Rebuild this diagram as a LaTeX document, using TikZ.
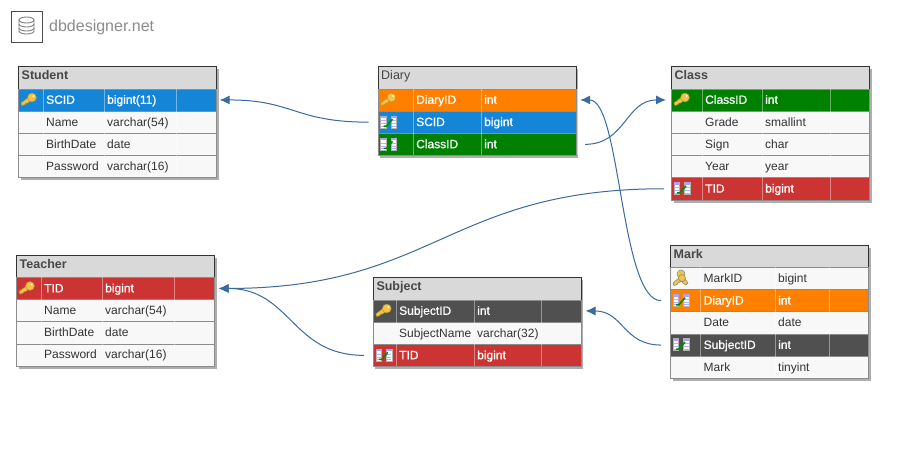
\documentclass[tikz,border=0pt]{standalone}
\usepackage{fontspec}
\setmainfont{Liberation Sans}
\newfontfamily\inkfont[FakeBold=0.8]{Liberation Sans}
\usepackage{tikz}
\usetikzlibrary{calc}
\usetikzlibrary{shadows}
\usetikzlibrary{arrows.meta}
\definecolor{dbblue}{HTML}{1585D8}
\definecolor{dborange}{HTML}{FF8000}
\definecolor{dbgreen}{HTML}{008000}
\definecolor{dbred}{HTML}{CC3333}
\definecolor{dbdark}{HTML}{505050}
\definecolor{dbplain}{HTML}{F8F8F8}
\definecolor{dbhead}{HTML}{D9D9D9}
\definecolor{dblink}{HTML}{3A6A9E}
\definecolor{dbkey}{HTML}{F2C544}
\tikzset{>={Latex[length=10pt,width=9pt]}}
\tikzset{
  tablebox/.style={draw=black!55,line width=1pt,fill=white,rectangle,inner sep=0pt,anchor=north west,
    drop shadow={shadow xshift=2pt,shadow yshift=-2.5pt,opacity=0.45,fill=black!70}},
  headbox/.style={draw=black!80,line width=1pt,fill=dbhead,rectangle,inner sep=0pt,minimum height=22.5pt,anchor=north west},
  rowbox/.style={draw=black!45,line width=0.7pt,rectangle,inner sep=0pt,minimum height=22.2pt,anchor=north west},
  headtext/.style={font=\bfseries\fontsize{12.5}{14}\selectfont,text=black!72,inner sep=0pt,anchor=base west},
  plainink/.style={font=\fontsize{12}{14}\selectfont,text=black!80,inner sep=0pt,anchor=base west},
  whiteink/.style={font=\inkfont\fontsize{12}{14}\selectfont,text=white,inner sep=0pt,anchor=base west},
  colsep/.style={white,opacity=0.4,line width=1pt},
  fklink/.style={dblink,line width=1pt,->},
  pk/.pic={
    \draw[dbkey!75!black,fill=dbkey,line width=0.5pt] (0,-2.5) -- (-8,3.5) -- (-7,6) -- (-4,5) -- (-3,3.5) -- (-1.5,3.5) -- (2,1) -- cycle;
    \draw[dbkey!75!black,fill=dbkey,line width=0.5pt] (3,-2) circle (4.4);
    \fill[white] (4.5,-3.5) circle (1);
  },
  mk/.pic={
    \draw[black!50,fill=dbkey,line width=0.5pt] (1,-3) -- (7,5) -- (5,7) -- (2,5) -- (-2,0) -- cycle;
    \draw[black!50,fill=dbkey,line width=0.5pt] (0,-4) circle (4);
    \draw[black!50,fill=dbkey,line width=0.5pt] (-1,-1) -- (-8,5) -- (-7,7.5) -- (-4,6.5) -- (-3,5) -- (1,3) -- cycle;
    \draw[black!50,fill=dbkey,line width=0.5pt] (1,0) circle (3.5);
  },
  fk/.pic={
    \draw[black!30,fill=white,line width=0.4pt] (-8,-6) rectangle (-2.5,6);
    \draw[black!30,fill=white,line width=0.4pt] (2.5,-6) rectangle (8,6);
    \fill[blue!35] (-8,-6) rectangle (-2.5,-3.5);
    \fill[blue!35] (2.5,-6) rectangle (8,-3.5);
    \foreach \k in {-1,2,4.5} {
      \draw[blue!30,line width=0.6pt] (-7.5,\k) -- (-3,\k);
      \draw[blue!30,line width=0.6pt] (3,\k) -- (7.5,\k);
    }
    \draw[green!55!black,line width=1.6pt] (-5,4.5) -- (-2,4.5) -- (4,-2.5);
  },
  nokey/.pic={}
}
\newcommand{\tablew}{198}
% #1 name, #2 title, #3 left, #4 top, #5-#7 column rules, #8 row count, #9 rows
\newcommand{\dbtable}[9]{
  \pgfmathsetmacro{\tableh}{22.5+22.2*#8}
  \node[tablebox,minimum width=\tablew pt,minimum height=\tableh pt] (#1) at (#3,#4) {};
  \node[headbox,minimum width=\tablew pt] (#1-head) at (#3,#4) {};
  \node[headtext] (#1-title) at (#3+3.5,#4+13.5) {#2};
  \foreach \rid/\rfield/\rtype/\rfill/\rink/\ricon [count=\i from 0] in {#9} {
    \pgfmathsetmacro{\ry}{#4+22.5+22.2*\i}
    \node[rowbox,fill=\rfill,minimum width=\tablew pt] (\rid) at (#3,\ry) {};
    \draw[colsep] (#5,\ry) -- (#5,\ry+22.2);
    \draw[colsep] (#6,\ry) -- (#6,\ry+22.2);
    \draw[colsep] (#7,\ry) -- (#7,\ry+22.2);
    \node[\rink] (\rid-field) at (#5+3,\ry+15.3) {\rfield};
    \node[\rink] (\rid-type) at (#6+3,\ry+15.3) {\rtype};
    \pic at (#3+11,\ry+11) {\ricon};
  }
}
\begin{document}
\begin{tikzpicture}[x=1pt,y=-1pt]
    \useasboundingbox[fill=white] (0,0) rectangle (918,450);
    % logo
    \node[draw=black!70,line width=1pt,fill=white,minimum size=31pt,inner sep=0pt,anchor=north west] (logo) at (10.5,10.5) {};
    \begin{scope}[black!50,line width=0.9pt]
      \draw (19,20) -- (19,31) arc[start angle=180,end angle=360,x radius=7.5,y radius=-3] -- (34,20);
      \draw (26.5,20) ellipse (7.5 and 3);
      \draw (19,24) arc[start angle=180,end angle=360,x radius=7.5,y radius=-3];
      \draw (19,28) arc[start angle=180,end angle=360,x radius=7.5,y radius=-3];
    \end{scope}
    \node[font=\fontsize{16}{20}\selectfont,text=black!45,inner sep=0pt,anchor=base west] (brand) at (49,31) {dbdesigner.net};
    % tables
    \dbtable{student}{Student}{18}{66}{43}{104}{176}{4}{
      stu-scid/SCID/bigint(11)/dbblue/whiteink/pk,
      stu-name/Name/varchar(54)/dbplain/plainink/nokey,
      stu-birth/BirthDate/date/dbplain/plainink/nokey,
      stu-pass/Password/varchar(16)/dbplain/plainink/nokey}
    \dbtable{diary}{\mdseries Diary}{377.5}{66}{413}{481}{577}{3}{
      dia-id/DiaryID/int/dborange/whiteink/pk,
      dia-scid/SCID/bigint/dbblue/whiteink/fk,
      dia-class/ClassID/int/dbgreen/whiteink/fk}
    \dbtable{class}{Class}{671}{66}{702}{762}{830}{5}{
      cla-id/ClassID/int/dbgreen/whiteink/pk,
      cla-grade/Grade/smallint/dbplain/plainink/nokey,
      cla-sign/Sign/char/dbplain/plainink/nokey,
      cla-year/Year/year/dbplain/plainink/nokey,
      cla-tid/TID/bigint/dbred/whiteink/fk}
    \dbtable{teacher}{Teacher}{16}{254.5}{41}{102}{174}{4}{
      tea-tid/TID/bigint/dbred/whiteink/pk,
      tea-name/Name/varchar(54)/dbplain/plainink/nokey,
      tea-birth/BirthDate/date/dbplain/plainink/nokey,
      tea-pass/Password/varchar(16)/dbplain/plainink/nokey}
    \renewcommand{\tablew}{208}
    \dbtable{subject}{Subject}{372.8}{277}{396}{474}{541}{3}{
      sub-id/SubjectID/int/dbdark/whiteink/pk,
      sub-name/SubjectName/varchar(32)/dbplain/plainink/nokey,
      sub-tid/TID/bigint/dbred/whiteink/fk}
    \renewcommand{\tablew}{198}
    \dbtable{mark}{Mark}{670}{244.5}{700.5}{775}{829}{5}{
      mar-id/MarkID/bigint/dbplain/plainink/mk,
      mar-diary/DiaryID/int/dborange/whiteink/fk,
      mar-date/Date/date/dbplain/plainink/nokey,
      mar-sub/SubjectID/int/dbdark/whiteink/fk,
      mar-mark/Mark/tinyint/dbplain/plainink/nokey}
    % references
    \draw[fklink] ([xshift=-9pt]dia-scid.west) to[out=180,in=0,looseness=1.26] ([xshift=3pt]stu-scid.east);
    \draw[fklink] ([xshift=9pt]dia-class.east) to[out=0,in=180,looseness=1.12] ([xshift=-5pt]cla-id.west);
    \draw[fklink] ([xshift=-7pt]cla-tid.west) to[out=180,in=0,looseness=1.21] ([xshift=4pt]tea-tid.east);
    \draw[fklink] ([xshift=-9pt]sub-tid.west) to[out=180,in=0,looseness=1.16] ([xshift=4pt]tea-tid.east);
    \draw[fklink] ([xshift=-9pt]mar-diary.west) to[out=180,in=0,looseness=0.48] ([xshift=4pt]dia-id.east);
    \draw[fklink] ([xshift=-9pt]mar-sub.west) to[out=180,in=0,looseness=1.17] ([xshift=4pt]sub-id.east);
\end{tikzpicture}
\end{document}
